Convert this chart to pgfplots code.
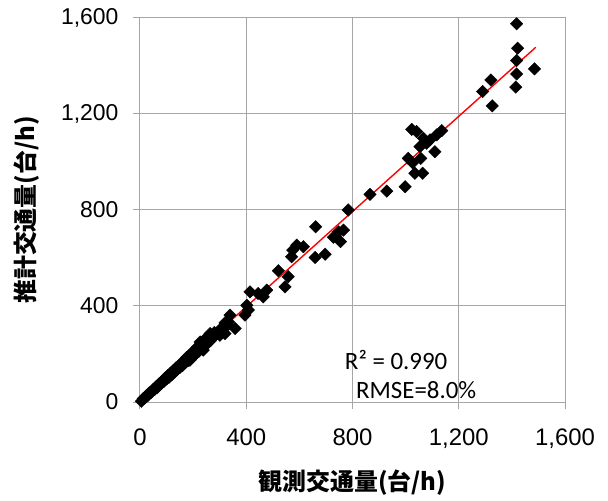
\documentclass[border=0pt]{standalone}
\usepackage{pgfplots}
\pgfplotsset{compat=1.18}
\usepackage{fontspec}
\setmainfont{Liberation Sans}
\newfontfamily\calfont{Carlito}
\newfontfamily\jpfont{Noto Sans CJK JP}
\definecolor{gridgray}{RGB}{166,166,166}
\newcommand\tickfont{\fontsize{23}{26}\selectfont}
\newcommand\xtickfont{\fontsize{24}{27}\selectfont}
\begin{document}
\begin{tikzpicture}
\begin{axis}[
  scale only axis,
  width=425bp, height=384bp,
  at={(0,0)}, anchor=south west,
  xmin=0, xmax=1600, ymin=0, ymax=1600,
  xtick={0,400,800,1200,1600},
  ytick={0,400,800,1200,1600},
  grid=major,
  grid style={gridgray, line width=1bp},
  axis line style={gridgray, line width=1bp},
  tick style={gridgray, line width=1bp},
  tick align=outside,
  major tick length=7bp,
  xtick pos=bottom, ytick pos=left,
  /pgf/number format/1000 sep={,},
  xticklabel={\xtickfont\pgfmathprintnumber[assume math mode=true]{\tick}},
  yticklabel={\tickfont\pgfmathprintnumber[assume math mode=true]{\tick}},
  xticklabel style={yshift=-16bp},
  yticklabel style={xshift=-11bp},
  xlabel={観測交通量(台/h)},
  ylabel={推計交通量(台/h)},
  label style={font=\jpfont\bfseries\fontsize{24}{28}\selectfont},
  xlabel style={at={(axis description cs:0.5,-0.211)}, anchor=center},
  ylabel style={at={(axis description cs:-0.266,0.5)}, anchor=center},
  clip=false,
]
\addplot[only marks, mark=square*, mark size=4.4bp, mark options={rotate=45, fill=black, draw=black}] table {
x y
5 3
12 14
18 16
25 27
30 28
35 38
42 40
48 50
55 52
60 63
65 60
70 74
78 75
85 88
90 86
95 100
100 96
105 110
110 104
115 120
120 114
125 130
130 125
135 142
140 135
145 150
150 144
155 162
160 152
165 172
170 164
175 185
180 172
185 194
190 182
195 205
200 190
205 215
210 200
215 228
222 212
230 245
235 228
245 262
250 240
260 275
265 255
275 270
280 290
290 285
300 300
310 290
320 330
330 320
188 174
195 202
213 216
238 216
226 250
251 264
264 285
301 278
320 285
333 334
358 306
339 362
395 362
408 383
402 403
464 438
414 459
445 452
477 466
546 480
558 522
521 547
571 605
575 633
590 654
615 647
659 602
697 616
755 668
728 686
766 716
747 709
661 730
784 800
866 865
929 879
998 897
1035 953
1064 953
1026 997
1010 1015
1057 1015
1054 1064
1110 1043
1079 1078
1023 1136
1041 1127
1067 1099
1092 1092
1117 1113
1136 1131
1290 1294
1321 1342
1326 1234
1415 1312
1418 1367
1485 1388
1418 1423
1422 1474
1418 1576
};
\addplot[red, line width=1.4bp] coordinates {(0,0) (1490,1478)};
\node[anchor=west, font=\calfont\fontsize{25}{28}\selectfont, inner sep=0pt] at (axis cs:771,174) {R² = 0.990};
\node[anchor=west, font=\calfont\fontsize{25}{28}\selectfont, inner sep=0pt] at (axis cs:813,49) {RMSE=8.0\%};
\end{axis}
\path (-140bp,-99bp) (468bp,402bp);
\end{tikzpicture}
\end{document}
